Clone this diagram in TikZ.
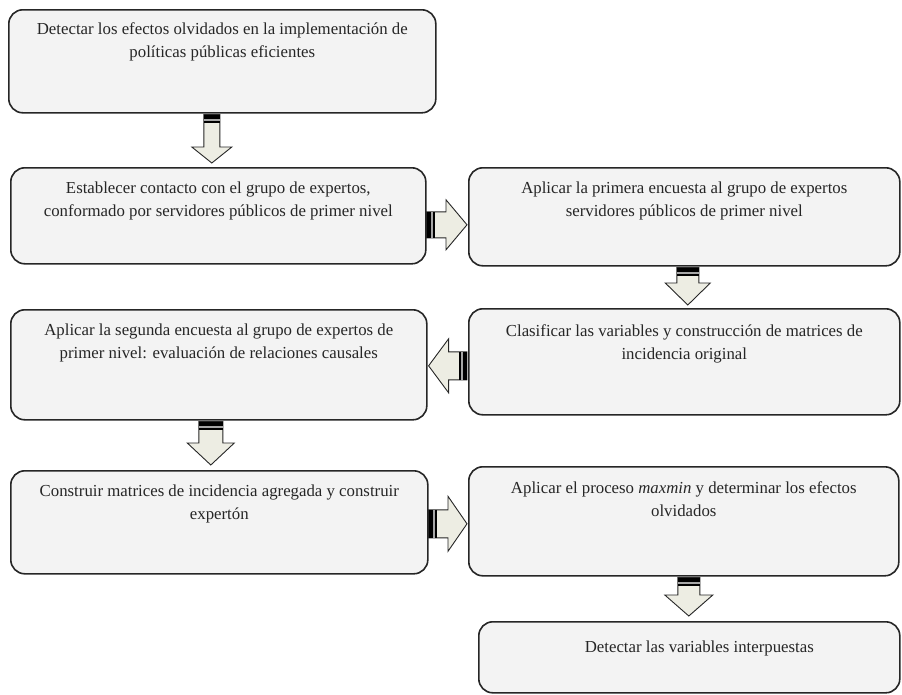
\documentclass[tikz,border=0pt]{standalone}
\usepackage{fontspec}
\setmainfont{Liberation Serif}
\usetikzlibrary{calc}

\definecolor{boxfill}{HTML}{F3F3F3}
\definecolor{arrowfill}{HTML}{EDEDE3}
\definecolor{inkgray}{HTML}{262626}

\tikzset{
  stepbox/.style={draw=inkgray, line width=1.6pt, fill=boxfill, rounded corners=14pt,
    anchor=north west, inner sep=0pt},
  steptext/.style={anchor=north, align=center, inner sep=0pt, text=inkgray,
    font=\fontsize{16.8}{23}\selectfont},
  arrowbody/.style={draw=inkgray, line width=0.9pt, fill=arrowfill, line join=miter},
}

% block arrow: tail, tip, half shaft, half head, head length
\newcommand\flowarrow[5]{%
  \coordinate (fa-t) at (#1);
  \coordinate (fa-h) at (#2);
  \coordinate (fa-b) at ($(fa-h)!#5!(fa-t)$);
  \coordinate (fa-s) at ($(fa-t)!8.5pt!(fa-h)$);
  \coordinate (fa-g) at ($(fa-t)!4.5pt!(fa-h)$);
  \coordinate (fa-q) at ($(fa-t)!6.5pt!(fa-h)$);
  \filldraw[arrowbody] ($(fa-t)!#3!90:(fa-h)$) -- ($(fa-b)!#3!-90:(fa-t)$)
    -- ($(fa-b)!#4!-90:(fa-t)$) -- (fa-h) -- ($(fa-b)!#4!90:(fa-t)$)
    -- ($(fa-b)!#3!90:(fa-t)$) -- ($(fa-t)!#3!-90:(fa-h)$) -- cycle;
  \fill[black] ($(fa-t)!#3!90:(fa-h)$) -- ($(fa-s)!#3!90:(fa-h)$)
    -- ($(fa-s)!#3!-90:(fa-h)$) -- ($(fa-t)!#3!-90:(fa-h)$) -- cycle;
  \fill[gray!70] ($(fa-g)!#3!90:(fa-h)$) -- ($(fa-q)!#3!90:(fa-h)$)
    -- ($(fa-q)!#3!-90:(fa-h)$) -- ($(fa-g)!#3!-90:(fa-h)$) -- cycle;
}

\begin{document}
\begin{tikzpicture}[x=1pt, y=-1pt]
  \useasboundingbox (0,0) rectangle (902,694);

  % boxes
  \node[stepbox, minimum width=427pt, minimum height=103pt] (b1) at (8,9) {};
  \node[stepbox, minimum width=415pt, minimum height=96pt] (b2) at (10,167) {};
  \node[stepbox, minimum width=431pt, minimum height=98pt] (b3) at (468,167) {};
  \node[stepbox, minimum width=431pt, minimum height=106pt] (b4) at (468,308) {};
  \node[stepbox, minimum width=416pt, minimum height=110pt] (b5) at (10,309) {};
  \node[stepbox, minimum width=417pt, minimum height=103pt] (b6) at (10,470) {};
  \node[stepbox, minimum width=430pt, minimum height=109pt] (b7) at (468,466) {};
  \node[stepbox, minimum width=421pt, minimum height=71pt] (b8) at (478,621) {};

  % texts
  \node[steptext] (t1) at ($(b1.north)+(0,13)$) {Detectar los efectos olvidados en la implementación de\\ políticas públicas eficientes};
  \node[steptext] (t2) at ($(b2.north)+(0,15)$) {Establecer contacto con el grupo de expertos,\\ conformado por servidores públicos de primer nivel};
  \node[steptext] (t3) at ($(b3.north)+(0,15)$) {Aplicar la primera encuesta al grupo de expertos\\ servidores públicos de primer nivel};
  \node[steptext] (t4) at ($(b4.north)+(0,16)$) {Clasificar las variables y construcción de matrices de\\ incidencia original};
  \node[steptext] (t5) at ($(b5.north)+(0,15)$) {Aplicar la segunda encuesta al grupo de expertos de\\ primer nivel: evaluación de relaciones causales};
  \node[steptext] (t6) at ($(b6.north)+(0,15)$) {Construir matrices de incidencia agregada y construir\\ expertón};
  \node[steptext] (t7) at ($(b7.north)+(0,15)$) {Aplicar el proceso \textit{maxmin} y determinar los efectos\\ olvidados};
  \node[steptext] (t8) at ($(b8.north)+(10,20)$) {Detectar las variables interpuestas};

  % arrows
  \flowarrow{$(b2.north |- b1.south)+(-6.5,1)$}{$(b2.north)+(-6.5,-4)$}{8pt}{20pt}{16pt}
  \flowarrow{$(b2.east)+(0,9)$}{$(b3.west)+(-1,8)$}{13pt}{25pt}{21pt}
  \flowarrow{$(b3.south)+(3.5,1)$}{$(b4.north)+(3.5,-3)$}{11pt}{22.5pt}{22pt}
  \flowarrow{$(b4.west)+(-1,4)$}{$(b5.east)+(1,1)$}{14pt}{27pt}{20pt}
  \flowarrow{$(b5.south)+(-8,1)$}{$(b6.north)+(-8.5,-5)$}{12pt}{23.5pt}{22pt}
  \flowarrow{$(b6.east)+(0,1.5)$}{$(b7.west)+(-1,2.5)$}{14pt}{27.5pt}{19pt}
  \flowarrow{$(b7.south)+(5,1)$}{$(b8.north)+(-0.5,-5)$}{11pt}{24pt}{21pt}
\end{tikzpicture}
\end{document}
